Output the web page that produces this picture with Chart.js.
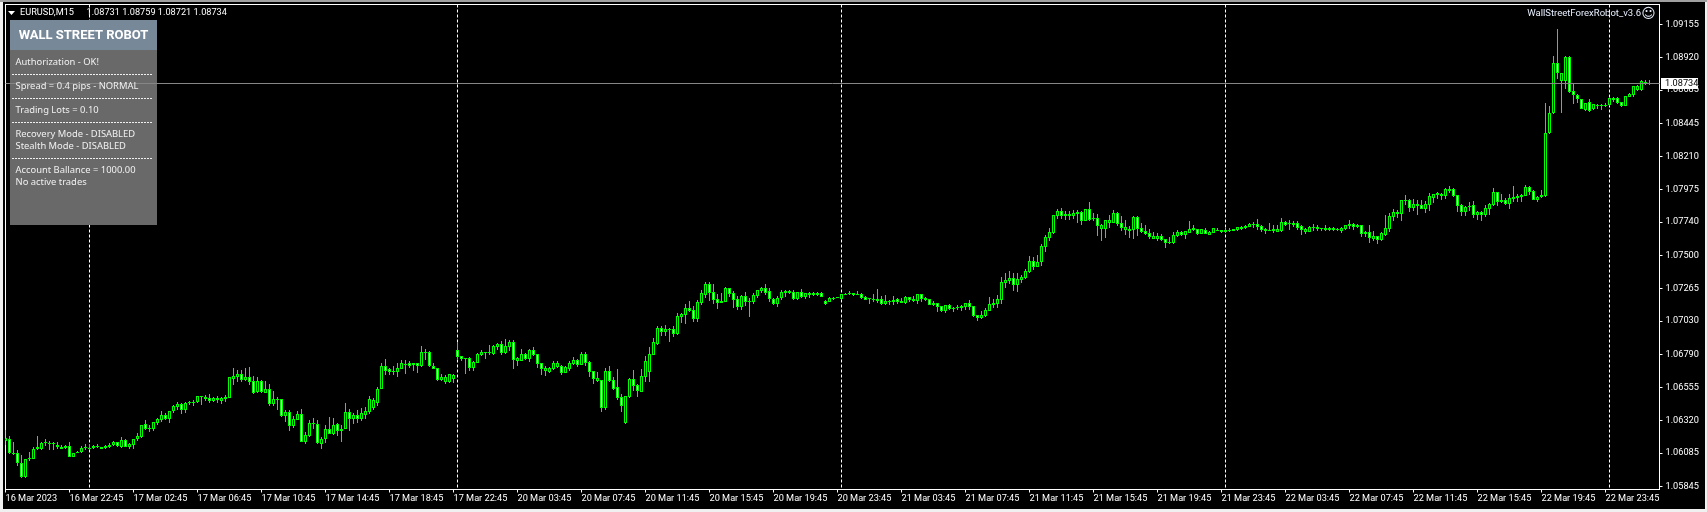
<!DOCTYPE html>
<html>
<head>
<meta charset="utf-8">
<title>EURUSD,M15</title>
<style>
  html, body { margin: 0; padding: 0; background: #f0f0f0; overflow: hidden; }
  canvas { display: block; }
</style>
<script src="https://cdn.jsdelivr.net/npm/chart.js@4/dist/chart.umd.min.js"></script>
</head>
<body>
<canvas id="chart" width="1707" height="512"></canvas>
<script>
// M15 candles
const opens = [
1.06170,1.06185,1.06085,1.06085,1.06013,1.05912,1.06042,1.06042,1.06113,1.06113,1.06156,1.06156,1.06156,1.06141,1.06127,1.06120,
1.06134,1.06056,1.06085,1.06092,1.06120,1.06120,1.06120,1.06134,1.06127,1.06120,1.06127,1.06141,1.06163,1.06127,1.06177,1.06127,
1.06141,1.06185,1.06199,1.06292,1.06263,1.06256,1.06299,1.06321,1.06356,1.06328,1.06385,1.06414,1.06435,1.06392,1.06443,1.06443,
1.06450,1.06493,1.06486,1.06479,1.06457,1.06479,1.06457,1.06472,1.06479,1.06615,1.06629,1.06650,1.06607,1.06629,1.06600,1.06522,
1.06600,1.06514,1.06543,1.06435,1.06472,1.06472,1.06349,1.06378,1.06278,1.06321,1.06364,1.06163,1.06206,1.06299,1.06292,1.06148,
1.06185,1.06256,1.06220,1.06292,1.06242,1.06256,1.06378,1.06328,1.06356,1.06328,1.06356,1.06378,1.06406,1.06443,1.06543,1.06708,
1.06686,1.06672,1.06665,1.06686,1.06722,1.06729,1.06729,1.06729,1.06708,1.06801,1.06808,1.06708,1.06694,1.06607,1.06593,1.06593,
1.06615,1.06822,1.06779,1.06765,1.06765,1.06694,1.06729,1.06786,1.06808,1.06801,1.06794,1.06844,1.06865,1.06801,1.06844,1.06880,
1.06744,1.06744,1.06794,1.06758,1.06822,1.06794,1.06729,1.06672,1.06665,1.06686,1.06701,1.06708,1.06658,1.06686,1.06722,1.06751,
1.06715,1.06794,1.06736,1.06672,1.06600,1.06607,1.06406,1.06672,1.06607,1.06557,1.06486,1.06299,1.06486,1.06615,1.06572,1.06522,
1.06629,1.06665,1.06786,1.06865,1.06980,1.06951,1.06973,1.06973,1.06937,1.07059,1.07073,1.07123,1.07109,1.07044,1.07159,1.07216,
1.07295,1.07238,1.07188,1.07159,1.07167,1.07267,1.07231,1.07188,1.07131,1.07209,1.07174,1.07167,1.07209,1.07245,1.07267,1.07245,
1.07188,1.07152,1.07195,1.07231,1.07245,1.07238,1.07188,1.07238,1.07202,1.07216,1.07231,1.07216,1.07231,1.07174,1.07167,1.07188,
1.07195,1.07188,1.07216,1.07223,1.07231,1.07216,1.07223,1.07202,1.07195,1.07181,1.07174,1.07188,1.07152,1.07167,1.07167,1.07188,
1.07159,1.07159,1.07202,1.07174,1.07174,1.07223,1.07195,1.07188,1.07159,1.07159,1.07138,1.07102,1.07145,1.07123,1.07123,1.07123,
1.07131,1.07159,1.07138,1.07073,1.07052,1.07066,1.07102,1.07145,1.07152,1.07181,1.07302,1.07317,1.07338,1.07288,1.07324,1.07338,
1.07381,1.07460,1.07417,1.07453,1.07560,1.07625,1.07661,1.07782,1.07818,1.07782,1.07797,1.07782,1.07811,1.07811,1.07747,1.07832,
1.07768,1.07768,1.07689,1.07689,1.07732,1.07732,1.07804,1.07732,1.07682,1.07689,1.07682,1.07775,1.07697,1.07675,1.07661,1.07617,
1.07617,1.07639,1.07617,1.07596,1.07589,1.07639,1.07668,1.07646,1.07661,1.07682,1.07689,1.07653,1.07682,1.07646,1.07661,1.07682,
1.07682,1.07668,1.07675,1.07675,1.07682,1.07689,1.07697,1.07704,1.07725,1.07725,1.07711,1.07689,1.07682,1.07675,1.07668,1.07675,
1.07740,1.07732,1.07718,1.07732,1.07711,1.07668,1.07668,1.07697,1.07704,1.07697,1.07682,1.07697,1.07682,1.07689,1.07675,1.07689,
1.07711,1.07725,1.07704,1.07718,1.07668,1.07668,1.07617,1.07639,1.07610,1.07646,1.07689,1.07775,1.07797,1.07797,1.07897,1.07897,
1.07840,1.07854,1.07861,1.07832,1.07861,1.07911,1.07933,1.07926,1.07926,1.07961,1.07976,1.07933,1.07861,1.07811,1.07847,1.07861,
1.07790,1.07811,1.07790,1.07832,1.07861,1.07954,1.07883,1.07897,1.07868,1.07904,1.07911,1.07919,1.07926,1.07990,1.07961,1.07897,
1.07919,1.07926,1.08377,1.08521,1.08879,1.08750,1.08750,1.08922,1.08678,1.08650,1.08621,1.08542,1.08599,1.08549,1.08571,1.08578,
1.08571,1.08578,1.08614,1.08628,1.08599,1.08571,1.08635,1.08650,1.08685,1.08685,1.08735,1.08731
];
const highs = [
1.06249,1.06206,1.06163,1.06106,1.06070,1.06042,1.06092,1.06127,1.06206,1.06163,1.06185,1.06170,1.06163,1.06163,1.06141,1.06141,
1.06163,1.06085,1.06099,1.06134,1.06148,1.06148,1.06141,1.06148,1.06127,1.06141,1.06156,1.06170,1.06163,1.06199,1.06185,1.06156,
1.06185,1.06227,1.06285,1.06321,1.06285,1.06307,1.06335,1.06385,1.06371,1.06385,1.06428,1.06450,1.06443,1.06450,1.06457,1.06464,
1.06493,1.06493,1.06500,1.06507,1.06486,1.06493,1.06486,1.06500,1.06629,1.06694,1.06679,1.06679,1.06694,1.06701,1.06636,1.06629,
1.06607,1.06600,1.06578,1.06529,1.06486,1.06472,1.06392,1.06392,1.06349,1.06385,1.06399,1.06235,1.06321,1.06335,1.06321,1.06199,
1.06285,1.06342,1.06335,1.06299,1.06285,1.06443,1.06399,1.06371,1.06392,1.06406,1.06414,1.06493,1.06479,1.06557,1.06729,1.06758,
1.06694,1.06708,1.06729,1.06751,1.06751,1.06744,1.06729,1.06729,1.06851,1.06829,1.06815,1.06729,1.06694,1.06650,1.06643,1.06650,
1.06650,1.06880,1.06779,1.06765,1.06772,1.06744,1.06801,1.06822,1.06808,1.06858,1.06858,1.06873,1.06887,1.06901,1.06894,1.06894,
1.06772,1.06829,1.06801,1.06829,1.06844,1.06794,1.06729,1.06708,1.06701,1.06744,1.06744,1.06715,1.06708,1.06744,1.06772,1.06758,
1.06808,1.06808,1.06744,1.06672,1.06665,1.06607,1.06694,1.06708,1.06629,1.06686,1.06507,1.06493,1.06622,1.06679,1.06578,1.06686,
1.06779,1.06844,1.06909,1.06994,1.06994,1.07001,1.06980,1.06994,1.07088,1.07088,1.07152,1.07174,1.07138,1.07181,1.07252,1.07310,
1.07310,1.07295,1.07223,1.07231,1.07274,1.07267,1.07245,1.07209,1.07216,1.07238,1.07195,1.07231,1.07252,1.07274,1.07295,1.07267,
1.07195,1.07209,1.07252,1.07252,1.07252,1.07252,1.07238,1.07259,1.07231,1.07238,1.07238,1.07238,1.07238,1.07181,1.07202,1.07202,
1.07202,1.07223,1.07231,1.07245,1.07231,1.07245,1.07231,1.07209,1.07195,1.07223,1.07259,1.07209,1.07216,1.07181,1.07209,1.07195,
1.07195,1.07209,1.07202,1.07209,1.07223,1.07223,1.07202,1.07188,1.07174,1.07159,1.07138,1.07145,1.07152,1.07131,1.07145,1.07145,
1.07159,1.07181,1.07138,1.07073,1.07102,1.07123,1.07202,1.07188,1.07216,1.07345,1.07374,1.07388,1.07374,1.07374,1.07360,1.07402,
1.07496,1.07489,1.07503,1.07582,1.07646,1.07697,1.07790,1.07832,1.07840,1.07818,1.07818,1.07825,1.07825,1.07818,1.07832,1.07883,
1.07804,1.07797,1.07725,1.07754,1.07790,1.07825,1.07811,1.07782,1.07754,1.07711,1.07782,1.07782,1.07732,1.07718,1.07689,1.07668,
1.07661,1.07653,1.07617,1.07632,1.07668,1.07682,1.07675,1.07675,1.07747,1.07718,1.07689,1.07689,1.07697,1.07675,1.07697,1.07697,
1.07682,1.07697,1.07697,1.07689,1.07704,1.07711,1.07718,1.07732,1.07740,1.07761,1.07718,1.07697,1.07732,1.07718,1.07718,1.07768,
1.07747,1.07754,1.07747,1.07747,1.07718,1.07697,1.07711,1.07725,1.07718,1.07697,1.07718,1.07704,1.07704,1.07697,1.07704,1.07718,
1.07754,1.07732,1.07725,1.07718,1.07675,1.07718,1.07675,1.07639,1.07668,1.07790,1.07804,1.07832,1.07825,1.07897,1.07933,1.07904,
1.07904,1.07897,1.07897,1.07890,1.07947,1.07940,1.07954,1.07947,1.07983,1.07997,1.07983,1.07933,1.07868,1.07854,1.07883,1.07890,
1.07818,1.07818,1.07861,1.07875,1.07983,1.07954,1.07940,1.07911,1.07940,1.07997,1.07940,1.07940,1.08004,1.07997,1.07969,1.07926,
1.07969,1.08592,1.08571,1.08929,1.09122,1.08807,1.08929,1.08929,1.08735,1.08656,1.08621,1.08592,1.08621,1.08585,1.08585,1.08585,
1.08592,1.08628,1.08635,1.08635,1.08599,1.08642,1.08663,1.08714,1.08721,1.08757,1.08757,1.08759
];
const lows = [
1.06141,1.06077,1.06070,1.05991,1.05905,1.05905,1.06027,1.06042,1.06106,1.06106,1.06134,1.06106,1.06106,1.06113,1.06113,1.06113,
1.06056,1.06056,1.06085,1.06085,1.06106,1.06106,1.06113,1.06120,1.06113,1.06113,1.06120,1.06134,1.06127,1.06120,1.06127,1.06113,
1.06113,1.06170,1.06192,1.06249,1.06235,1.06242,1.06285,1.06307,1.06321,1.06299,1.06371,1.06392,1.06364,1.06371,1.06428,1.06421,
1.06443,1.06428,1.06457,1.06443,1.06450,1.06443,1.06435,1.06450,1.06479,1.06572,1.06593,1.06593,1.06600,1.06572,1.06507,1.06514,
1.06514,1.06514,1.06421,1.06421,1.06392,1.06342,1.06307,1.06242,1.06263,1.06321,1.06163,1.06148,1.06199,1.06256,1.06148,1.06113,
1.06156,1.06220,1.06213,1.06206,1.06163,1.06256,1.06242,1.06292,1.06299,1.06314,1.06328,1.06364,1.06392,1.06421,1.06543,1.06643,
1.06643,1.06643,1.06629,1.06686,1.06650,1.06694,1.06672,1.06658,1.06701,1.06751,1.06701,1.06686,1.06600,1.06600,1.06578,1.06586,
1.06586,1.06758,1.06744,1.06650,1.06672,1.06672,1.06729,1.06779,1.06758,1.06786,1.06786,1.06822,1.06786,1.06794,1.06815,1.06686,
1.06708,1.06744,1.06751,1.06736,1.06779,1.06694,1.06643,1.06636,1.06658,1.06679,1.06694,1.06643,1.06658,1.06672,1.06715,1.06701,
1.06715,1.06708,1.06629,1.06578,1.06593,1.06378,1.06392,1.06593,1.06536,1.06464,1.06378,1.06292,1.06479,1.06529,1.06486,1.06522,
1.06593,1.06593,1.06786,1.06858,1.06923,1.06923,1.06880,1.06916,1.06930,1.07016,1.07008,1.07095,1.07023,1.07023,1.07145,1.07195,
1.07174,1.07152,1.07116,1.07159,1.07167,1.07202,1.07123,1.07109,1.07109,1.07138,1.07059,1.07152,1.07195,1.07231,1.07216,1.07167,
1.07145,1.07131,1.07181,1.07202,1.07223,1.07181,1.07181,1.07195,1.07188,1.07195,1.07209,1.07209,1.07202,1.07145,1.07167,1.07181,
1.07195,1.07181,1.07216,1.07216,1.07209,1.07216,1.07188,1.07181,1.07152,1.07167,1.07159,1.07145,1.07145,1.07145,1.07145,1.07152,
1.07159,1.07152,1.07167,1.07167,1.07152,1.07167,1.07174,1.07145,1.07138,1.07095,1.07095,1.07088,1.07109,1.07095,1.07109,1.07102,
1.07109,1.07109,1.07059,1.07030,1.07044,1.07059,1.07102,1.07123,1.07123,1.07152,1.07267,1.07295,1.07245,1.07238,1.07302,1.07331,
1.07374,1.07395,1.07417,1.07424,1.07525,1.07603,1.07653,1.07761,1.07761,1.07754,1.07754,1.07761,1.07732,1.07718,1.07747,1.07747,
1.07747,1.07639,1.07603,1.07625,1.07697,1.07732,1.07711,1.07675,1.07646,1.07625,1.07617,1.07639,1.07661,1.07646,1.07617,1.07617,
1.07603,1.07603,1.07553,1.07582,1.07582,1.07632,1.07639,1.07617,1.07661,1.07675,1.07646,1.07653,1.07653,1.07646,1.07661,1.07675,
1.07661,1.07661,1.07668,1.07675,1.07675,1.07682,1.07689,1.07704,1.07697,1.07682,1.07668,1.07653,1.07675,1.07661,1.07668,1.07668,
1.07711,1.07682,1.07704,1.07682,1.07646,1.07653,1.07668,1.07675,1.07675,1.07675,1.07675,1.07675,1.07675,1.07675,1.07661,1.07682,
1.07689,1.07682,1.07697,1.07632,1.07632,1.07589,1.07603,1.07582,1.07603,1.07639,1.07668,1.07747,1.07768,1.07747,1.07861,1.07811,
1.07818,1.07790,1.07832,1.07804,1.07818,1.07875,1.07904,1.07897,1.07904,1.07947,1.07919,1.07811,1.07782,1.07782,1.07818,1.07768,
1.07754,1.07747,1.07775,1.07790,1.07854,1.07854,1.07875,1.07861,1.07832,1.07883,1.07883,1.07883,1.07926,1.07933,1.07897,1.07883,
1.07911,1.07919,1.08370,1.08513,1.08764,1.08521,1.08692,1.08664,1.08585,1.08592,1.08549,1.08535,1.08528,1.08542,1.08549,1.08542,
1.08564,1.08571,1.08599,1.08585,1.08564,1.08571,1.08635,1.08635,1.08678,1.08678,1.08721,1.08721
];
const closes = [
1.06192,1.06085,1.06077,1.06013,1.05912,1.06042,1.06049,1.06113,1.06127,1.06156,1.06163,1.06148,1.06148,1.06127,1.06113,1.06134,
1.06056,1.06085,1.06092,1.06120,1.06127,1.06113,1.06134,1.06127,1.06113,1.06134,1.06141,1.06163,1.06134,1.06177,1.06127,1.06148,
1.06185,1.06206,1.06285,1.06256,1.06256,1.06307,1.06328,1.06356,1.06328,1.06385,1.06421,1.06435,1.06392,1.06443,1.06450,1.06450,
1.06493,1.06486,1.06472,1.06457,1.06479,1.06464,1.06479,1.06486,1.06629,1.06636,1.06650,1.06607,1.06629,1.06593,1.06514,1.06600,
1.06522,1.06543,1.06435,1.06472,1.06464,1.06349,1.06378,1.06278,1.06328,1.06364,1.06163,1.06213,1.06299,1.06292,1.06156,1.06185,
1.06256,1.06220,1.06285,1.06242,1.06256,1.06378,1.06328,1.06356,1.06328,1.06371,1.06385,1.06472,1.06464,1.06543,1.06708,1.06672,
1.06665,1.06665,1.06694,1.06729,1.06715,1.06708,1.06715,1.06708,1.06808,1.06808,1.06708,1.06686,1.06607,1.06629,1.06629,1.06650,
1.06643,1.06772,1.06758,1.06758,1.06694,1.06736,1.06794,1.06808,1.06801,1.06808,1.06851,1.06865,1.06801,1.06851,1.06880,1.06751,
1.06765,1.06794,1.06758,1.06822,1.06786,1.06722,1.06686,1.06694,1.06694,1.06729,1.06729,1.06658,1.06701,1.06729,1.06751,1.06715,
1.06794,1.06729,1.06665,1.06615,1.06622,1.06406,1.06672,1.06600,1.06543,1.06479,1.06421,1.06493,1.06615,1.06565,1.06529,1.06636,
1.06744,1.06794,1.06880,1.06980,1.06951,1.06973,1.06966,1.06937,1.07066,1.07080,1.07123,1.07102,1.07044,1.07167,1.07231,1.07295,
1.07231,1.07181,1.07159,1.07174,1.07267,1.07223,1.07181,1.07131,1.07209,1.07167,1.07167,1.07216,1.07252,1.07267,1.07231,1.07188,
1.07152,1.07195,1.07238,1.07245,1.07231,1.07188,1.07238,1.07202,1.07231,1.07231,1.07216,1.07231,1.07202,1.07152,1.07195,1.07195,
1.07202,1.07223,1.07223,1.07231,1.07216,1.07223,1.07195,1.07181,1.07188,1.07188,1.07188,1.07152,1.07174,1.07174,1.07181,1.07167,
1.07174,1.07202,1.07181,1.07188,1.07223,1.07188,1.07181,1.07145,1.07145,1.07131,1.07102,1.07145,1.07116,1.07116,1.07131,1.07138,
1.07159,1.07131,1.07066,1.07052,1.07073,1.07109,1.07152,1.07159,1.07188,1.07310,1.07324,1.07338,1.07288,1.07331,1.07345,1.07388,
1.07460,1.07417,1.07453,1.07568,1.07632,1.07668,1.07790,1.07818,1.07782,1.07797,1.07782,1.07804,1.07797,1.07747,1.07832,1.07754,
1.07761,1.07711,1.07718,1.07754,1.07754,1.07804,1.07725,1.07697,1.07704,1.07675,1.07775,1.07689,1.07668,1.07653,1.07632,1.07639,
1.07639,1.07610,1.07589,1.07589,1.07646,1.07668,1.07646,1.07675,1.07689,1.07697,1.07653,1.07689,1.07653,1.07668,1.07697,1.07675,
1.07668,1.07682,1.07682,1.07689,1.07704,1.07704,1.07711,1.07725,1.07718,1.07704,1.07682,1.07675,1.07675,1.07689,1.07689,1.07740,
1.07718,1.07725,1.07732,1.07697,1.07682,1.07689,1.07704,1.07704,1.07689,1.07689,1.07697,1.07682,1.07697,1.07682,1.07697,1.07718,
1.07725,1.07704,1.07718,1.07653,1.07653,1.07625,1.07639,1.07610,1.07661,1.07697,1.07782,1.07811,1.07811,1.07897,1.07890,1.07840,
1.07868,1.07868,1.07832,1.07868,1.07926,1.07940,1.07947,1.07940,1.07976,1.07976,1.07926,1.07854,1.07811,1.07847,1.07854,1.07790,
1.07811,1.07790,1.07840,1.07868,1.07954,1.07883,1.07897,1.07868,1.07911,1.07919,1.07926,1.07933,1.07990,1.07954,1.07897,1.07919,
1.07933,1.08377,1.08521,1.08879,1.08807,1.08807,1.08922,1.08671,1.08650,1.08621,1.08549,1.08592,1.08535,1.08585,1.08578,1.08571,
1.08578,1.08628,1.08628,1.08592,1.08571,1.08642,1.08656,1.08714,1.08714,1.08750,1.08743,1.08734
];
const priceTicks = [1.09155,1.08920,1.08685,1.08445,1.08210,1.07975,1.07740,1.07500,1.07265,1.07030,1.06790,1.06555,1.06320,1.06085,1.05845];
const timeLabels = ['16 Mar 2023','16 Mar 22:45','17 Mar 02:45','17 Mar 06:45','17 Mar 10:45','17 Mar 14:45','17 Mar 18:45','17 Mar 22:45',
  '20 Mar 03:45','20 Mar 07:45','20 Mar 11:45','20 Mar 15:45','20 Mar 19:45','20 Mar 23:45','21 Mar 03:45','21 Mar 07:45','21 Mar 11:45',
  '21 Mar 15:45','21 Mar 19:45','21 Mar 23:45','22 Mar 03:45','22 Mar 07:45','22 Mar 11:45','22 Mar 15:45','22 Mar 19:45','22 Mar 23:45'];
const labelEvery = 16;      // one time label every 4 hours
const daySeparators = [21, 113, 209, 305, 401];
const lastPrice = 1.08734;
const panelLines = [
  ['Authorization - OK!', 62.5], ['Spread = 0.4 pips - NORMAL', 86.5], ['Trading Lots = 0.10', 110.5],
  ['Recovery Mode - DISABLED', 134.5], ['Stealth Mode - DISABLED', 146.5],
  ['Account Ballance = 1000.00', 170.5], ['No active trades', 182.5]
];
const panelRules = [74, 98, 122, 158];

const UI_FONT = 'Roboto';
const UI_SIZE = 9.2;
const PANEL_FONT = '"Noto Sans"';
const LIME = '#00ff00';

const n = opens.length;
const wickData = [], bodyData = [], bodyFill = [];
for (let i = 0; i < n; i++) {
  wickData.push({ x: i, y: [lows[i], highs[i]] });
  bodyData.push({ x: i, y: [Math.min(opens[i], closes[i]), Math.max(opens[i], closes[i])] });
  bodyFill.push(closes[i] < opens[i] ? '#ffffff' : '#000000');
}

// snap bar ends to whole pixels so candles stay crisp like the terminal
function snapBars(chart) {
  chart.data.datasets.forEach((ds, d) => {
    chart.getDatasetMeta(d).data.forEach(el => {
      el.y = Math.round(el.y);
      el.base = Math.round(el.base);
      if (el.y === el.base) el.base += 1;
    });
  });
}

const terminal = {
  id: 'terminal',
  beforeDraw(chart) {
    const c = chart.ctx;
    c.save();
    c.fillStyle = '#f0f0f0';
    c.fillRect(0, 0, 1707, 512);
    c.fillStyle = '#a0a0a0';
    c.fillRect(0, 0, 1707, 2);
    c.fillStyle = '#000000';
    c.fillRect(3, 2, 1702, 507);
    c.restore();
  },
  beforeDatasetsDraw(chart) {
    snapBars(chart);
    const c = chart.ctx, a = chart.chartArea, xs = chart.scales.x;
    c.save();
    c.strokeStyle = '#ffffff';
    c.lineWidth = 1;
    c.strokeRect(a.left, a.top, a.right - a.left, a.bottom - a.top);
    c.setLineDash([3, 2]);
    daySeparators.forEach(i => {
      const x = xs.getPixelForValue(i);
      c.beginPath();
      c.moveTo(x, a.top);
      c.lineTo(x, a.bottom);
      c.stroke();
    });
    c.restore();
  },
  afterDatasetsDraw(chart) {
    const c = chart.ctx, a = chart.chartArea, ys = chart.scales.y;
    const y = Math.round(ys.getPixelForValue(lastPrice)) + 0.5;
    c.save();
    // robot panel
    c.fillStyle = '#696969';
    c.fillRect(10, 20, 147, 205);
    c.fillStyle = '#778899';
    c.fillRect(10, 20, 147, 30);
    // last price line
    c.strokeStyle = '#868686';
    c.beginPath();
    c.moveTo(a.left, y);
    c.lineTo(a.right, y);
    c.stroke();
    // panel text
    c.textBaseline = 'middle';
    c.fillStyle = '#ffffff';
    c.textAlign = 'center';
    c.font = 'bold 13px ' + UI_FONT;
    c.fillText('WALL STREET ROBOT', 83.5, 36);
    c.textAlign = 'left';
    c.font = '9.4px ' + PANEL_FONT;
    c.fillStyle = '#f0f0f0';
    panelLines.forEach(l => c.fillText(l[0], 15.5, l[1]));
    c.strokeStyle = '#f0f0f0';
    c.setLineDash([2, 1]);
    panelRules.forEach(r => {
      c.beginPath();
      c.moveTo(12, r + 0.5);
      c.lineTo(153, r + 0.5);
      c.stroke();
    });
    c.restore();
  },
  afterDraw(chart) {
    const c = chart.ctx;
    c.save();
    // last price tag
    c.fillStyle = '#ffffff';
    c.fillRect(1661, 78, 37, 11);
    c.fillStyle = '#000000';
    c.font = UI_SIZE + 'px ' + UI_FONT;
    c.textAlign = 'left';
    c.textBaseline = 'middle';
    c.fillText(lastPrice.toFixed(5), 1665, 83.5);
    // chart header
    c.fillStyle = '#ffffff';
    c.beginPath();
    c.moveTo(8, 11);
    c.lineTo(15, 11);
    c.lineTo(11.5, 15);
    c.fill();
    c.fillText('EURUSD,M15', 20, 13);
    c.fillText('1.08731 1.08759 1.08721 1.08734', 86.5, 13);
    c.fillStyle = '#e8f0ff';
    c.textAlign = 'right';
    c.font = '9.5px ' + UI_FONT;
    c.fillText('WallStreetForexRobot_v3.6', 1641, 13.5);
    c.textAlign = 'center';
    c.font = '14px "DejaVu Sans"';
    c.fillText('\u263A', 1648.5, 14);
    c.restore();
  }
};

new Chart(document.getElementById('chart'), {
  type: 'bar',
  data: {
    datasets: [
      { data: bodyData, barThickness: 3, grouped: false, backgroundColor: bodyFill, borderColor: LIME, borderWidth: 1, borderSkipped: false, inflateAmount: 0 },
      { data: wickData, barThickness: 1, grouped: false, backgroundColor: LIME, borderWidth: 0, inflateAmount: 0 }
    ]
  },
  options: {
    responsive: false,
    animation: false,
    devicePixelRatio: 1,
    events: [],
    layout: { padding: { left: 5.5, top: 4.5, right: 0, bottom: 0 } },
    plugins: { legend: { display: false }, tooltip: { enabled: false } },
    scales: {
      x: {
        type: 'linear',
        offset: false,
        min: 0,
        max: 413.5,
        grid: { offset: false, drawOnChartArea: false, tickLength: 3, tickColor: '#ffffff' },
        border: { display: false },
        afterBuildTicks: s => { s.ticks = timeLabels.map((_, k) => ({ value: k * labelEvery })); },
        afterFit: s => { s.height = 22.5; s.paddingLeft = s.paddingRight = 0; },
        ticks: {
          autoSkip: false, maxRotation: 0, minRotation: 0, align: 'start', padding: 1,
          color: '#ffffff', font: { family: UI_FONT, size: UI_SIZE },
          callback: v => timeLabels[v / labelEvery]
        }
      },
      y: {
        position: 'right',
        min: 1.05824,
        max: 1.09298,
        grid: { drawOnChartArea: false, tickLength: 3, tickColor: '#ffffff' },
        border: { display: false },
        afterBuildTicks: s => { s.ticks = priceTicks.map(v => ({ value: v })); },
        afterFit: s => { s.width = 47.5; s.paddingTop = s.paddingBottom = 0; },
        ticks: {
          autoSkip: false, padding: 3,
          color: '#ffffff', font: { family: UI_FONT, size: UI_SIZE },
          callback: v => v.toFixed(5)
        }
      }
    }
  },
  plugins: [terminal]
});
</script>
</body>
</html>
